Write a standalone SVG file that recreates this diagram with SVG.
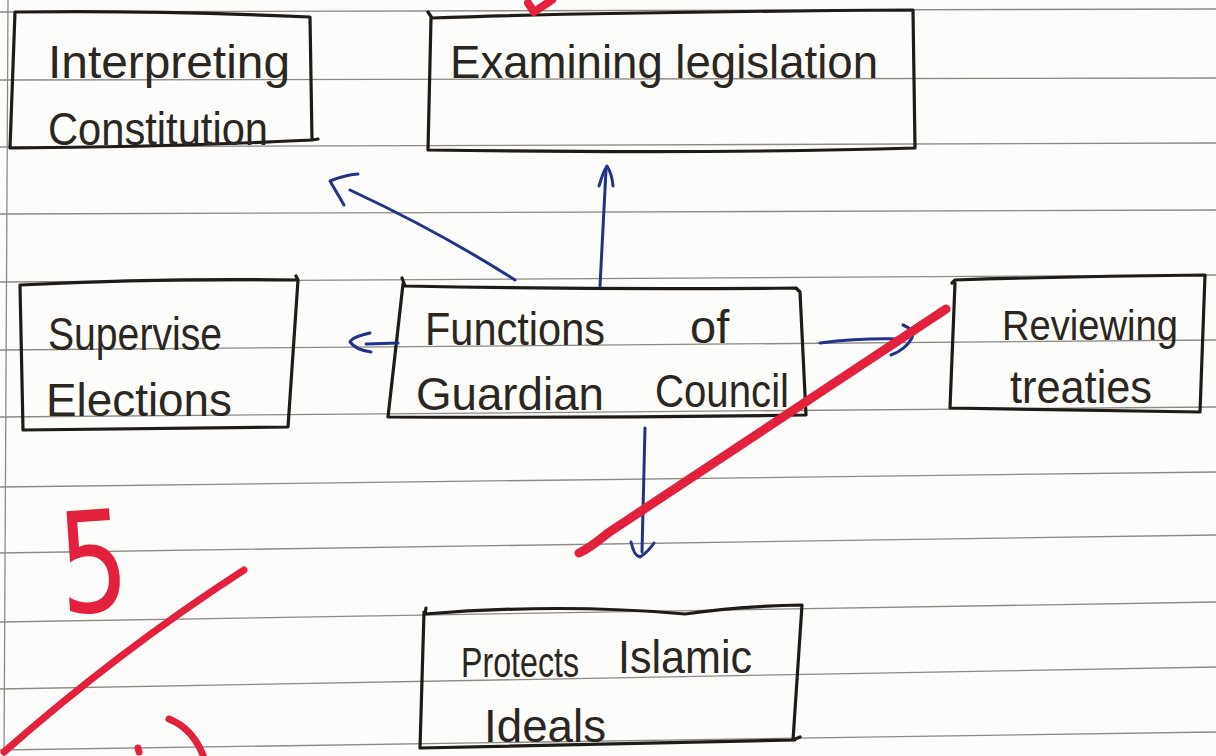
<svg xmlns="http://www.w3.org/2000/svg" width="1216" height="756" viewBox="0 0 1216 756">
<style>
.paper{fill:#fcfcfa}
.rule{stroke:#8d8a84;stroke-width:1.3;fill:none}
.box{fill:none;stroke:#1f1b17;stroke-width:3.2;stroke-linecap:round;stroke-linejoin:round}
.lbl{font-family:"Liberation Sans",sans-serif;font-size:47px;fill:#2b2620;font-weight:normal}
.sm{font-size:42px}
.con{fill:none;stroke:#22318a;stroke-width:3;stroke-linecap:round;stroke-linejoin:round}
.red{fill:none;stroke:#e3213d;stroke-linecap:round;stroke-linejoin:round}
</style>
<rect class="paper" x="0" y="0" width="1216" height="756"/>
<g id="paper-rules">
<line class="rule" x1="0" y1="12" x2="1216" y2="9"/>
<line class="rule" x1="0" y1="80" x2="1216" y2="78"/>
<line class="rule" x1="0" y1="147" x2="1216" y2="143"/>
<line class="rule" x1="0" y1="214" x2="1216" y2="210"/>
<line class="rule" x1="0" y1="282" x2="1216" y2="275"/>
<line class="rule" x1="0" y1="350" x2="1216" y2="340"/>
<line class="rule" x1="0" y1="417" x2="1216" y2="407"/>
<line class="rule" x1="0" y1="487" x2="1216" y2="472"/>
<line class="rule" x1="0" y1="553" x2="1216" y2="535"/>
<line class="rule" x1="0" y1="622" x2="1216" y2="602"/>
<line class="rule" x1="0" y1="689" x2="1216" y2="667"/>
<line class="rule" x1="0" y1="750" x2="1216" y2="732"/>
<line class="rule" x1="8" y1="0" x2="4" y2="756"/>
</g>
<g id="node-interpreting">
<path class="box" d="M15,12 Q150,10 310,17 L312,140 L318,139 M312,140 Q170,147 10,148 L15,12"/>
<text class="lbl" x="48" y="78" textLength="242" lengthAdjust="spacingAndGlyphs">Interpreting</text>
<text class="lbl" x="48" y="145" textLength="220" lengthAdjust="spacingAndGlyphs">Constitution</text>
</g>
<g id="node-examining">
<path class="box" d="M428,12 L432,18 Q600,12 913,10 L915,148 Q720,154 428,150 L431,18"/>
<text class="lbl" x="450" y="78" textLength="428" lengthAdjust="spacingAndGlyphs">Examining  legislation</text>
</g>
<g id="node-supervise">
<path class="box" d="M20,285 Q160,278 298,280 L296,276 M298,280 L288,427 Q160,428 23,430 L20,285"/>
<text class="lbl" x="48" y="350" textLength="174" lengthAdjust="spacingAndGlyphs">Supervise</text>
<text class="lbl" x="46" y="416" textLength="186" lengthAdjust="spacingAndGlyphs">Elections</text>
</g>
<g id="node-functions">
<path class="box" d="M402,278 L405,286 Q600,290 796,288 L800,292 L806,415 Q600,418 388,417 L403,284"/>
<text class="lbl" x="425" y="345" textLength="180" lengthAdjust="spacingAndGlyphs">Functions</text>
<text class="lbl" x="690" y="343">of</text>
<text class="lbl" x="416" y="410" textLength="188" lengthAdjust="spacingAndGlyphs">Guardian</text>
<text class="lbl" x="655" y="407" textLength="134" lengthAdjust="spacingAndGlyphs">Council</text>
</g>
<g id="node-reviewing">
<path class="box" d="M952,283 L955,280 Q1080,276 1205,275 L1200,412 Q1080,410 950,408 L955,283"/>
<text class="lbl sm" x="1002" y="340" textLength="176" lengthAdjust="spacingAndGlyphs">Reviewing</text>
<text class="lbl" x="1010" y="403" textLength="142" lengthAdjust="spacingAndGlyphs">treaties</text>
</g>
<g id="node-protects">
<path class="box" d="M426,608 L425,614 Q560,603 685,614 Q740,606 802,605 L793,740 L800,737 M795,740 Q600,744 420,748 L424,612"/>
<text class="lbl sm" x="461" y="677" textLength="118" lengthAdjust="spacingAndGlyphs">Protects</text>
<text class="lbl" x="618" y="673" textLength="134" lengthAdjust="spacingAndGlyphs">Islamic</text>
<text class="lbl" x="484" y="742" textLength="122" lengthAdjust="spacingAndGlyphs">Ideals</text>
</g>
<g id="connectors">
<path class="con" d="M515,280 Q440,232 350,190"/>
<path class="con" d="M344,205 L330,181 Q345,175 358,174"/>
<path class="con" d="M600,286 Q603,230 606,170"/>
<path class="con" d="M599,186 Q603,172 607,166 Q612,174 613,186"/>
<path class="con" d="M398,343 L366,344"/>
<path class="con" d="M370,333 Q352,337 350,342 Q356,350 371,352"/>
<path class="con" d="M820,343 Q860,338 900,339"/>
<path class="con" d="M903,325 Q915,330 912,338 Q905,350 891,355"/>
<path class="con" d="M645,428 L642,552"/>
<path class="con" d="M631,542 Q634,556 640,557 Q648,552 654,543"/>
</g>
<g id="grading-marks">
<path class="red" stroke-width="8" d="M528,3 L534,12 L552,0"/>
<path class="red" stroke-width="9" d="M579,553 Q590,548 608,533 L946,309"/>
<path class="red" stroke-width="7" d="M244,570 Q120,650 4,752"/>
<path class="red" stroke-width="7" d="M138,748 L139,752"/>
<path class="red" stroke-width="7" d="M169,719 Q192,728 203,755"/>
<text x="58" y="612" font-family="DejaVu Sans, sans-serif" font-size="140" fill="#e3213d" transform="rotate(-4 90 560)" textLength="70" lengthAdjust="spacingAndGlyphs">5</text>
</g>
</svg>
